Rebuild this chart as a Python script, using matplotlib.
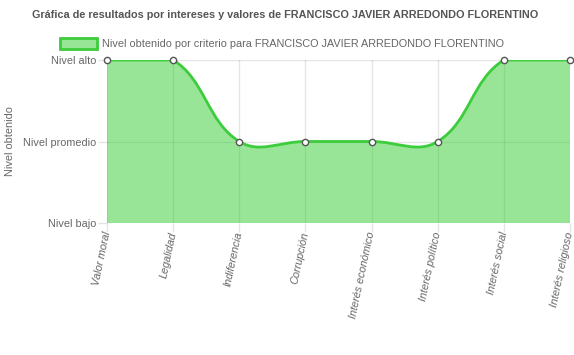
import numpy as np
import matplotlib
matplotlib.use("Agg")
import matplotlib.pyplot as plt
from matplotlib.path import Path
from matplotlib.patches import PathPatch, Rectangle

categories = ["Valor moral", "Legalidad", "Indiferencia", "Corrupción",
              "Interés económico", "Interés político", "Interés social", "Interés religioso"]
values = [2, 2, 1, 1, 1, 1, 2, 2]
level_labels = ["Nivel bajo", "Nivel promedio", "Nivel alto"]
title = "Gráfica de resultados por intereses y valores de FRANCISCO JAVIER ARREDONDO FLORENTINO"
legend_label = "Nivel obtenido por criterio para FRANCISCO JAVIER ARREDONDO FLORENTINO"
y_title = "Nivel obtenido"

plt.rcParams['font.family'] = ['Liberation Sans', 'DejaVu Sans']
W, H = 574, 355
fig = plt.figure(figsize=(W / 100, H / 100), dpi=100)
L, R, T, B = 107, 570, 60, 223
ax = fig.add_axes([L / W, 1 - B / H, (R - L) / W, (B - T) / H])

n = len(categories)
xs = np.arange(n, dtype=float)
ys = np.array(values, dtype=float)
ax.set_xlim(0, n - 1)
ax.set_ylim(0, 2)
sx = (R - L) / (n - 1)
sy = (B - T) / 2.0

# Chart.js-like spline (tension 0.4) with control points capped to the area
t = 0.4
prev_cp, next_cp = [], []
for i in range(n):
    p0 = (xs[max(i - 1, 0)], ys[max(i - 1, 0)])
    p1 = (xs[i], ys[i])
    p2 = (xs[min(i + 1, n - 1)], ys[min(i + 1, n - 1)])
    d01 = np.hypot((p1[0] - p0[0]) * sx, (p1[1] - p0[1]) * sy)
    d12 = np.hypot((p2[0] - p1[0]) * sx, (p2[1] - p1[1]) * sy)
    tot = d01 + d12
    s01 = d01 / tot if tot else 0
    s12 = d12 / tot if tot else 0
    fa, fb = t * s01, t * s12
    pc = [p1[0] - fa * (p2[0] - p0[0]), p1[1] - fa * (p2[1] - p0[1])]
    nc = [p1[0] + fb * (p2[0] - p0[0]), p1[1] + fb * (p2[1] - p0[1])]
    for c in (pc, nc):
        c[0] = min(max(c[0], 0), n - 1)
        c[1] = min(max(c[1], 0), 2)
    prev_cp.append(pc)
    next_cp.append(nc)

verts = [(xs[0], ys[0])]
codes = [Path.MOVETO]
for i in range(n - 1):
    verts += [tuple(next_cp[i]), tuple(prev_cp[i + 1]), (xs[i + 1], ys[i + 1])]
    codes += [Path.CURVE4] * 3
line_path = Path(verts, codes)
fill_verts = verts + [(xs[-1], 0), (xs[0], 0), (xs[0], ys[0])]
fill_codes = codes + [Path.LINETO, Path.LINETO, Path.CLOSEPOLY]

grid_c = (0, 0, 0, 0.1)
for i in range(n):
    ax.axvline(xs[i], color=grid_c, lw=1, zorder=1)
for v in range(3):
    ax.axhline(v, color=grid_c, lw=1, zorder=1)

fill_c = (50/255, 205/255, 50/255, 0.5)
ax.add_patch(PathPatch(Path(fill_verts, fill_codes), facecolor=fill_c,
                       edgecolor='none', zorder=2))
ax.add_patch(PathPatch(line_path, facecolor='none', edgecolor='#3ccc3c', lw=2, zorder=3))
ax.plot(xs, ys, 'o', ms=4.5, mfc='white', mec='#555555', mew=1, zorder=4, clip_on=False)

fs = 7.8
for s in ax.spines.values():
    s.set_visible(False)
ax.set_xticks(xs)
ax.set_yticks([0, 1, 2])
ax.set_yticklabels(level_labels)
ax.set_xticklabels(categories, style='italic')
ax.tick_params(axis='both', colors=grid_c, labelcolor='#666666', labelsize=fs, length=6.5, width=1)
ax.tick_params(axis='y', pad=1)
ax.tick_params(axis='x', pad=0)
plt.setp(ax.get_xticklabels(), rotation=78, ha='right', va='center', rotation_mode='anchor')

fig.text(10 / W, 1 - 141 / H, y_title, rotation=90, ha='center', va='center',
         color='#666666', fontsize=fs)
fig.text(285 / W, 1 - 15 / H, title, ha='center', va='center', color='#555555',
         fontsize=fs, fontweight='bold')

# legend
fig.patches.append(Rectangle((60 / W, 1 - 49 / H), 37 / W, 11 / H, transform=fig.transFigure,
                             facecolor=fill_c, edgecolor='#3ccc3c', lw=2))
fig.text(102 / W, 1 - 44 / H, legend_label, ha='left', va='center', color='#666666', fontsize=fs)

fig.savefig("out.png", dpi=100)
